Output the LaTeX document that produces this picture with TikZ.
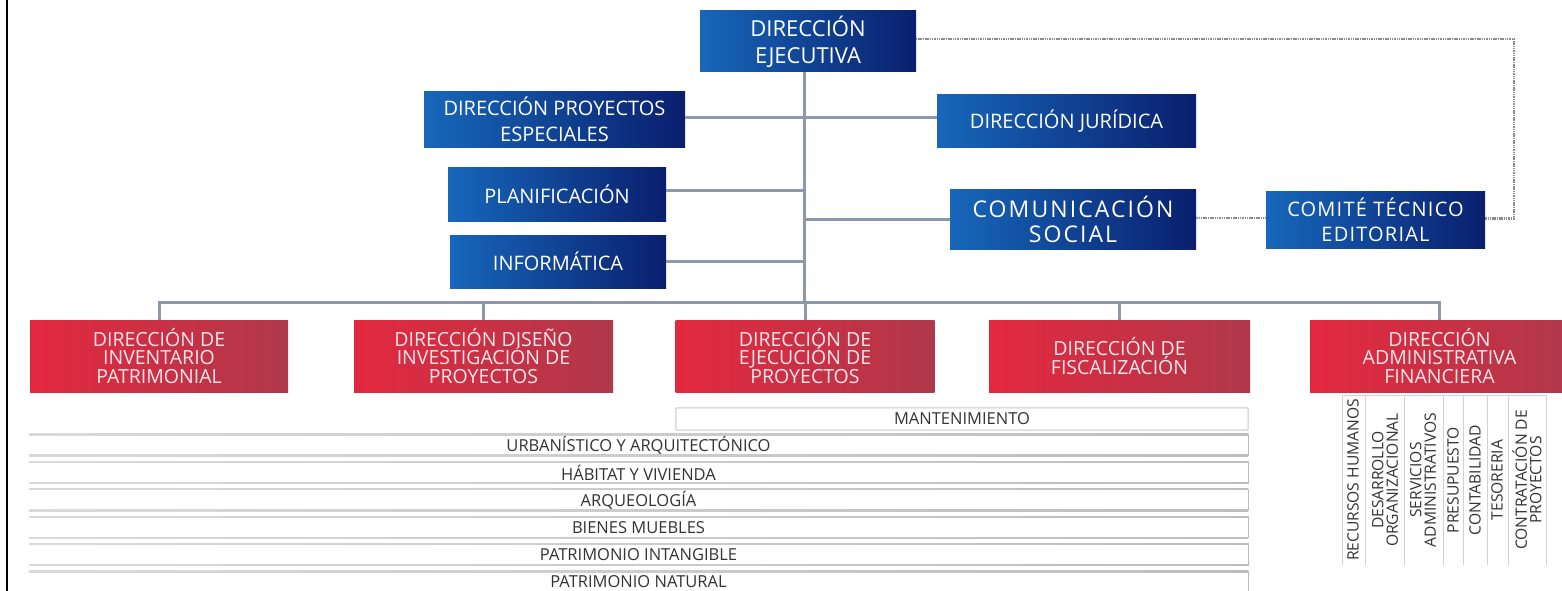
\documentclass[tikz,border=0pt]{standalone}
\usepackage{fontspec}
\setmainfont{Open Sans}
\usetikzlibrary{calc}
\definecolor{bluL}{HTML}{1767BA}
\definecolor{bluR}{HTML}{0A1F6E}
\definecolor{redL}{HTML}{E3283E}
\definecolor{redR}{HTML}{B0384B}
\definecolor{redT}{HTML}{FBE6EA}
\definecolor{conn}{HTML}{8E98AD}
\definecolor{dotc}{HTML}{8C8C8C}
\definecolor{barL}{HTML}{DADADA}
\definecolor{barR}{HTML}{BDBDBD}
\definecolor{txt}{HTML}{333333}
\begin{document}
\begin{tikzpicture}[x=1pt,y=-1pt,
  box/.style={draw=none, inner sep=0pt, align=center, text=white},
  bbox/.style={box, left color=bluL, right color=bluR, font=\fontsize{20}{26}\selectfont},
  rbox/.style={box, left color=redL, right color=redR, text=redT,
     font=\fontsize{19.5}{18.5}\selectfont, minimum height=72, minimum width=259},
  conline/.style={draw=conn, line width=3pt},
  dotline/.style={draw=dotc, line width=2.5pt, dash pattern=on 1.5pt off 0.8pt},
  barbox/.style={draw=none, inner sep=0pt, text=txt, font=\fontsize{16.5}{16}\selectfont},
  coltext/.style={inner sep=0pt, text=txt, align=center, font=\fontsize{15.6}{14.5}\selectfont},
  colline/.style={draw=gray!35, line width=1pt}
]
\useasboundingbox (0,0) rectangle (1562,591);
\fill[white] (0,0) rectangle (1562,591);
\begin{scope}
\clip (0,0) rectangle (1562,591);
% left frame line
\draw[black, line width=2pt] (7,0) -- (7,591);

% blue boxes
\node[bbox, minimum width=216, minimum height=61, font=\fontsize{22}{27}\selectfont] (top) at (808,41.5) {DIRECCIÓN\\EJECUTIVA};
\node[bbox, minimum width=261, minimum height=55] (dpe) at (554.5,119.5) {DIRECCIÓN PROYECTOS\\ESPECIALES};
\node[bbox, minimum width=218, minimum height=54] (plan) at (557,194) {PLANIFICACIÓN};
\node[bbox, minimum width=216, minimum height=53] (info) at (558,261.5) {INFORMÁTICA};
\node[bbox, minimum width=259, minimum height=52] (jur) at (1066.5,121) {DIRECCIÓN JURÍDICA};
\node[bbox, minimum width=246, minimum height=60, font=\fontsize{23}{25}\selectfont\addfontfeatures{LetterSpace=9}] (com) at (1073,219) {COMUNICACIÓN\\SOCIAL};
\node[bbox, minimum width=219, minimum height=57, font=\fontsize{20}{25}\selectfont\addfontfeatures{LetterSpace=6}] (comite) at (1375.5,219.5) {COMITÉ TÉCNICO\\EDITORIAL};

% red boxes
\node[rbox, minimum width=258] (r1) at (159,356) {DIRECCIÓN DE\\INVENTARIO\\PATRIMONIAL};
\node[rbox] (r2) at (483.5,356) {DIRECCIÓN DISEÑO\\INVESTIGACIÓN DE\\PROYECTOS};
\node[rbox] (r3) at (805,356) {DIRECCIÓN DE\\EJECUCIÓN DE\\PROYECTOS};
\node[rbox, minimum width=261] (r4) at (1119.5,356) {DIRECCIÓN DE\\FISCALIZACIÓN};
\node[rbox] (r5) at (1439.5,356) {DIRECCIÓN\\ADMINISTRATIVA\\FINANCIERA};

% connectors
\coordinate (t) at (804,302);
\draw[conline] (top.south -| t) -- (t);
\draw[conline] ([yshift=2pt]dpe.east) -- ([yshift=2pt]dpe.east -| jur.west);
\draw[conline] ([yshift=4pt]plan.east) -- ([yshift=4pt]plan.east -| t);
\draw[conline] (info.east) -- (info.east -| t);
\draw[conline] (com.west -| t) -- (com.west);
\draw[conline, line cap=rect] (r1.north |- t) -- (r5.north |- t);
\foreach \r in {r1,r2,r3,r4,r5}{
  \draw[conline] (\r.north |- t) -- (\r.north);
}

% dotted links
\coordinate (d) at (1514,39);
\draw[dotline] ([yshift=1pt]com.east) -- ([yshift=1pt]com.east -| comite.west);
\draw[dotline] ([yshift=1pt]comite.east) -- ([yshift=1pt]comite.east -| d) -- (d) -- (d -| top.east);

% bars
\node[barbox, minimum width=572, minimum height=22] (mant) at (962,419) {MANTENIMIENTO};
\draw[gray!45, line width=1pt, rounded corners=1pt] (mant.north west) rectangle (mant.south east);
\foreach \lab [count=\i from 0] in {URBANÍSTICO Y ARQUITECTÓNICO, HÁBITAT Y VIVIENDA, ARQUEOLOGÍA, BIENES MUEBLES, PATRIMONIO INTANGIBLE, PATRIMONIO NATURAL}{
  \node[barbox, minimum width=1219, minimum height=22] (b\i) at (638.5,{445+27.4*\i}) {\lab};
  \fill[left color=barL, right color=barR] (b\i.north west) rectangle ([yshift=-1.3pt]b\i.north east);
  \fill[left color=barL, right color=barR] (b\i.south west) rectangle ([yshift=1.3pt]b\i.south east);
  \draw[barR, line width=1pt] (b\i.north east) -- (b\i.south east);
}

% columns under administrative direction
\draw[colline] (1342,395) -- (1546,395);
\foreach \x in {1342,1365,1404,1443,1463,1487,1508,1546}{
  \draw[colline] (\x,395) -- (\x,565);
}
\node[coltext, rotate=90] (c1) at (1353,480) {RECURSOS HUMANOS};
\node[coltext, rotate=90] (c2) at (1385,480) {DESARROLLO\\ORGANIZACIONAL};
\node[coltext, rotate=90] (c3) at (1423,480) {SERVICIOS\\ADMINISTRATIVOS};
\node[coltext, rotate=90] (c4) at (1453,480) {PRESUPUESTO};
\node[coltext, rotate=90] (c5) at (1475,480) {CONTABILIDAD};
\node[coltext, rotate=90] (c6) at (1497,480) {TESORERIA};
\node[coltext, rotate=90] (c7) at (1527,480) {CONTRATACIÓN DE\\PROYECTOS};
\end{scope}
\end{tikzpicture}
\end{document}
